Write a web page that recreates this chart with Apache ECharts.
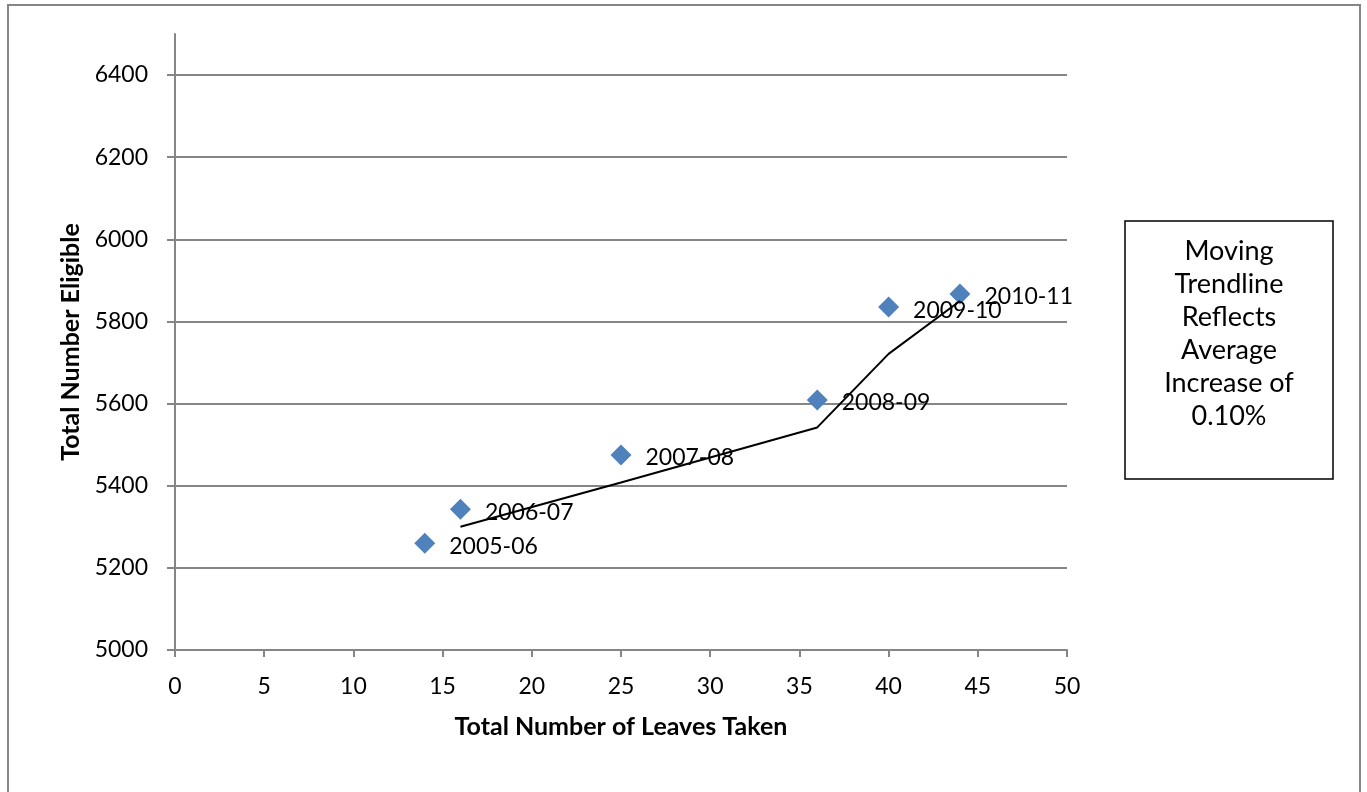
<!DOCTYPE html>
<html>
<head>
<meta charset="utf-8">
<script src="https://cdn.jsdelivr.net/npm/echarts@6/dist/echarts.min.js"></script>
<style>
  html, body { margin: 0; padding: 0; background: #fff; }
  #chart { width: 1367px; height: 792px; }
</style>
</head>
<body>
<div id="chart"></div>
<script>
  // data
  var years = ['2005-06', '2006-07', '2007-08', '2008-09', '2009-10', '2010-11'];
  var leaves = [14, 16, 25, 36, 40, 44];
  var eligible = [5260, 5343, 5475, 5609, 5835, 5867];

  // 2-period moving average trendline as drawn
  var trendX = [16, 25, 36, 40, 44];
  var trendY = [5300, 5408, 5542, 5721, 5850];

  var noteLines = ['Moving', 'Trendline', 'Reflects', 'Average', 'Increase of', '0.10%'];

  var font = 'Lato, "Open Sans", sans-serif';
  var gray = '#868686';

  var chart = echarts.init(document.getElementById('chart'));

  var option = {
    animation: false,
    backgroundColor: '#fff',
    textStyle: { fontFamily: font },
    grid: { left: 175, right: 300, top: 34, bottom: 142 },
    xAxis: {
      type: 'value',
      min: 0, max: 50, interval: 5,
      name: 'Total Number of Leaves Taken',
      nameLocation: 'middle',
      nameGap: 64,
      nameTextStyle: { fontFamily: font, fontWeight: 'bold', fontSize: 25, color: '#000' },
      axisLine: { show: true, lineStyle: { color: gray, width: 2 } },
      axisTick: { show: true, length: 7, inside: false, lineStyle: { color: gray, width: 2 } },
      axisLabel: { fontFamily: font, fontSize: 23, color: '#000', margin: 25 },
      splitLine: { show: false }
    },
    yAxis: {
      type: 'value',
      min: 5000, max: 6500, interval: 200,
      name: 'Total Number Eligible',
      nameLocation: 'middle',
      nameGap: 91,
      nameTextStyle: { fontFamily: font, fontWeight: 'bold', fontSize: 25, color: '#000' },
      axisLine: { show: true, lineStyle: { color: gray, width: 2 } },
      axisTick: { show: true, length: 8, lineStyle: { color: gray, width: 2 } },
      axisLabel: {
        fontFamily: font, fontSize: 23, color: '#000', margin: 27, showMaxLabel: false,
        formatter: function (v) { return String(v); }
      },
      splitLine: { show: true, showMaxLine: false, lineStyle: { color: gray, width: 2 } }
    },
    series: [
      {
        type: 'scatter',
        symbol: 'diamond',
        symbolSize: 21,
        itemStyle: { color: '#4F81BD', opacity: 1 },
        label: {
          show: true,
          position: 'right',
          distance: 14,
          fontFamily: font,
          fontSize: 23,
          color: '#000',
          offset: [0, 3],
          formatter: function (p) { return years[p.dataIndex]; }
        },
        data: leaves.map(function (x, i) { return [x, eligible[i]]; }),
        z: 2
      },
      {
        type: 'line',
        symbol: 'none',
        lineStyle: { color: '#000', width: 2 },
        data: trendX.map(function (x, i) { return [x, trendY[i]]; }),
        z: 3
      }
    ],
    graphic: [
      {
        type: 'rect',
        shape: { x: 8, y: 5, width: 1352, height: 800 },
        style: { fill: null, stroke: gray, lineWidth: 2 },
        silent: true
      },
      {
        type: 'rect',
        shape: { x: 1125, y: 221, width: 208, height: 258 },
        style: { fill: '#fff', stroke: '#000', lineWidth: 1.5 },
        silent: true
      },
      {
        type: 'text',
        x: 1229,
        y: 235,
        style: {
          text: noteLines.join('\n'),
          align: 'center',
          verticalAlign: 'top',
          fontFamily: font,
          fontSize: 27,
          lineHeight: 33,
          fill: '#000'
        },
        silent: true
      }
    ]
  };

  chart.setOption(option);
</script>
</body>
</html>
